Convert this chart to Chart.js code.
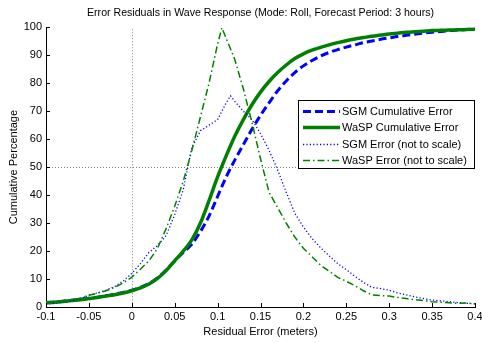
<!DOCTYPE html>
<html><head><meta charset="utf-8">
<script src="https://cdn.jsdelivr.net/npm/chart.js@4.4.0/dist/chart.umd.min.js"></script>
<style>html,body{margin:0;padding:0;background:#fff}#wrap{width:482px;height:343px}</style>
</head><body><div id="wrap"><canvas id="c" width="482" height="343"></canvas></div>
<script>
const chartTitle = 'Error Residuals in Wave Response (Mode: Roll, Forecast Period: 3 hours)';
const xTitle = 'Residual Error (meters)';
const yTitle = 'Cumulative Percentage';
const seriesNames = ['SGM Cumulative Error', 'WaSP Cumulative Error', 'SGM Error (not to scale)', 'WaSP Error (not to scale)'];

const xTickValues = [-0.1, -0.05, 0, 0.05, 0.1, 0.15, 0.2, 0.25, 0.3, 0.35, 0.4];
const xTickLabels = ['-0.1', '-0.05', '0', '0.05', '0.1', '0.15', '0.2', '0.25', '0.3', '0.35', '0.4'];
const yTickValues = [0, 10, 20, 30, 40, 50, 60, 70, 80, 90, 100];
const yTickLabels = ['0', '10', '20', '30', '40', '50', '60', '70', '80', '90', '100'];
const refX = 0;
const refY = 50;

const cumX = [-0.1,-0.09,-0.08,-0.07,-0.06,-0.05,-0.04,-0.03,-0.02,-0.01,0,
  0.01,0.02,0.03,0.04,0.05,0.06,0.07,0.08,0.09,0.1,
  0.11,0.12,0.13,0.14,0.15,0.16,0.17,0.18,0.19,0.2,
  0.21,0.22,0.23,0.24,0.25,0.26,0.27,0.28,0.29,0.3,
  0.31,0.32,0.33,0.34,0.35,0.36,0.37,0.38,0.39,0.4];
const sgmCum = [1.6,1.8,2.1,2.4,2.7,3.1,3.5,4.0,4.6,5.2,6.0,
  7.0,8.4,10.4,13.2,16.5,19.5,22.5,27,32.5,39.5,
  46.5,52.5,58,63.5,68.5,73,77.3,80.8,83.8,86.2,
  88.1,89.7,91,92,92.9,93.7,94.5,95.1,95.7,96.2,
  96.7,97.1,97.5,97.9,98.2,98.5,98.8,99.0,99.2,99.4];
const waspCum = [1.5,1.7,2.0,2.3,2.6,3.0,3.4,3.9,4.4,5.0,5.8,
  6.8,8.2,10.2,13.0,16.5,20,24,30,38,46.5,
  54,61,67,72.3,76.8,80.6,83.8,86.5,88.8,90.5,
  91.8,92.8,93.7,94.5,95.2,95.8,96.3,96.8,97.2,97.6,
  97.9,98.2,98.4,98.6,98.8,98.9,99.0,99.1,99.2,99.3];

const errX = [-0.1,-0.09,-0.08,-0.07,-0.06,-0.05,-0.04,-0.03,-0.02,-0.01,0,
  0.01,0.02,0.03,0.04,0.05,0.06,0.07,0.08,0.09,0.1,
  0.105,0.11,0.115,
  0.12,0.13,0.14,0.15,0.16,0.17,0.18,0.19,0.2,
  0.21,0.22,0.23,0.24,0.25,0.26,0.27,0.28,0.29,0.3,
  0.31,0.32,0.33,0.34,0.35,0.36,0.37,0.38,0.39,0.4];
const sgmErr = [1.0,1.3,1.7,2.2,3.0,4.2,5.0,6.0,7.3,9.3,12,
  15.5,19.5,22,25.5,33,42,57,63,65,67,
  70,73,75.5,
  73.5,70,67,62,56,49,41,33.5,28.6,
  24.5,21.2,18.3,15.5,13.3,11.0,8.8,7.0,6.6,6.0,
  5.0,4.3,3.6,3.0,2.5,2.2,1.9,1.6,1.3,1.1];
const waspErr = [1.2,1.5,1.9,2.4,3.2,4.2,4.9,5.8,7.0,8.6,10.7,
  13.5,16.5,21,28,36,45,56,68,80,94,
  99.8,96,92.3,
  88.5,78,66,53,41,35.5,30,25,21,
  18,15,12.8,10.6,9.2,7.6,5.8,4.3,4.1,3.9,
  3.4,3.0,2.6,2.3,1.9,1.7,1.5,1.3,1.4,1.2];

const FONT = '"Liberation Sans", Arial, Helvetica, sans-serif';
Chart.defaults.font.family = FONT;
Chart.defaults.font.size = 11;
Chart.defaults.color = '#000';

function pts(xs, ys) { return xs.map((x, i) => ({ x: x, y: ys[i] })); }

const refLines = {
  id: 'refLines',
  beforeDatasetsDraw(chart) {
    const { ctx, chartArea: a, scales: { x, y } } = chart;
    ctx.save();
    ctx.strokeStyle = '#808080';
    ctx.lineWidth = 1;
    ctx.setLineDash([1, 2]);
    const x0 = Math.round(x.getPixelForValue(refX)) + 0.5;
    ctx.beginPath(); ctx.moveTo(x0, a.top + 2); ctx.lineTo(x0, a.bottom); ctx.stroke();
    const y0 = Math.round(y.getPixelForValue(refY)) + 0.5;
    ctx.beginPath(); ctx.moveTo(a.left, y0); ctx.lineTo(a.right, y0); ctx.stroke();
    ctx.restore();
  }
};

const inTicks = {
  id: 'inTicks',
  afterDraw(chart) {
    const { ctx, chartArea: a, scales: { x, y } } = chart;
    ctx.save();
    ctx.strokeStyle = '#000';
    ctx.lineWidth = 1;
    x.ticks.forEach(t => {
      const px = Math.round(x.getPixelForValue(t.value)) + 0.5;
      ctx.beginPath(); ctx.moveTo(px, a.bottom); ctx.lineTo(px, a.bottom - 4); ctx.stroke();
    });
    y.ticks.forEach(t => {
      const py = Math.round(y.getPixelForValue(t.value)) + 0.5;
      ctx.beginPath(); ctx.moveTo(a.left, py); ctx.lineTo(a.left + 4, py); ctx.stroke();
    });
    ctx.restore();
  }
};

const boxLegend = {
  id: 'boxLegend',
  afterDatasetsDraw(chart) {
    const { ctx, chartArea: a } = chart;
    const w = 177, h = 69;
    const L = Math.round(a.right - w), T = Math.round(a.top + 73);
    ctx.save();
    ctx.setLineDash([]);
    ctx.fillStyle = '#fff';
    ctx.fillRect(L, T, w, h);
    ctx.strokeStyle = '#000';
    ctx.lineWidth = 1;
    ctx.strokeRect(L + 0.5, T + 0.5, w - 1, h - 1);
    chart.data.datasets.forEach((ds, i) => {
      const yy = Math.round(T + 11 + i * 16.3) + 0.5;
      ctx.strokeStyle = ds.borderColor;
      ctx.lineWidth = ds.borderWidth;
      ctx.setLineDash(ds.borderDash || []);
      ctx.beginPath(); ctx.moveTo(L + 5, yy); ctx.lineTo(L + 42, yy); ctx.stroke();
      ctx.setLineDash([]);
      ctx.fillStyle = '#000';
      ctx.font = '11px ' + FONT;
      ctx.textBaseline = 'middle';
      ctx.textAlign = 'left';
      ctx.fillText(ds.label, L + 44, yy);
    });
    ctx.restore();
  }
};

new Chart(document.getElementById('c'), {
  type: 'line',
  data: {
    datasets: [
      { label: seriesNames[0], data: pts(cumX, sgmCum), borderColor: '#0000ff', borderWidth: 3, borderDash: [8, 4], pointRadius: 0, cubicInterpolationMode: 'monotone', order: 3 },
      { label: seriesNames[1], data: pts(cumX, waspCum), borderColor: '#008000', borderWidth: 3.5, pointRadius: 0, cubicInterpolationMode: 'monotone', order: 2 },
      { label: seriesNames[2], data: pts(errX, sgmErr), borderColor: '#0000ff', borderWidth: 1.3, borderDash: [1.2, 2.2], pointRadius: 0, tension: 0, order: 1 },
      { label: seriesNames[3], data: pts(errX, waspErr), borderColor: '#008000', borderWidth: 1.5, borderDash: [7, 3, 1.5, 3], pointRadius: 0, tension: 0, order: 0 }
    ]
  },
  options: {
    responsive: false,
    animation: false,
    devicePixelRatio: 1,
    layout: { padding: { left: 0, right: 7, top: 0, bottom: 0 } },
    plugins: {
      legend: { display: false },
      tooltip: { enabled: false },
      title: { display: true, text: chartTitle, fullSize: false, color: '#000', font: { size: 10.6, weight: 'normal', lineHeight: 1.25 }, padding: { top: 6, bottom: 8 } }
    },
    scales: {
      x: {
        type: 'linear', min: -0.1, max: 0.4,
        afterBuildTicks: s => { s.ticks = xTickValues.map(v => ({ value: v })); },
        afterFit: s => { s.height = 36; s.paddingLeft = 0; s.paddingRight = 0; },
        ticks: { callback: (v, i) => xTickLabels[i], padding: 3, maxRotation: 0, autoSkip: false, color: '#000', font: { size: 11 } },
        grid: { display: false, drawTicks: false },
        border: { display: true, color: '#000', width: 1 },
        title: { display: true, text: xTitle, color: '#000', font: { size: 11 }, padding: { top: 0, bottom: 4 } }
      },
      y: {
        min: 0, max: 100,
        afterBuildTicks: s => { s.ticks = yTickValues.map(v => ({ value: v })); },
        afterFit: s => { s.width = 46; s.paddingTop = 0; s.paddingBottom = 0; },
        ticks: { callback: (v, i) => yTickLabels[i], padding: 4, color: '#000', font: { size: 11 } },
        grid: { display: false, drawTicks: false },
        border: { display: true, color: '#000', width: 1 },
        title: { display: true, text: yTitle, color: '#000', font: { size: 11 }, padding: { top: 7, bottom: 0 } }
      }
    }
  },
  plugins: [refLines, boxLegend, inTicks]
});
</script>
</body></html>
